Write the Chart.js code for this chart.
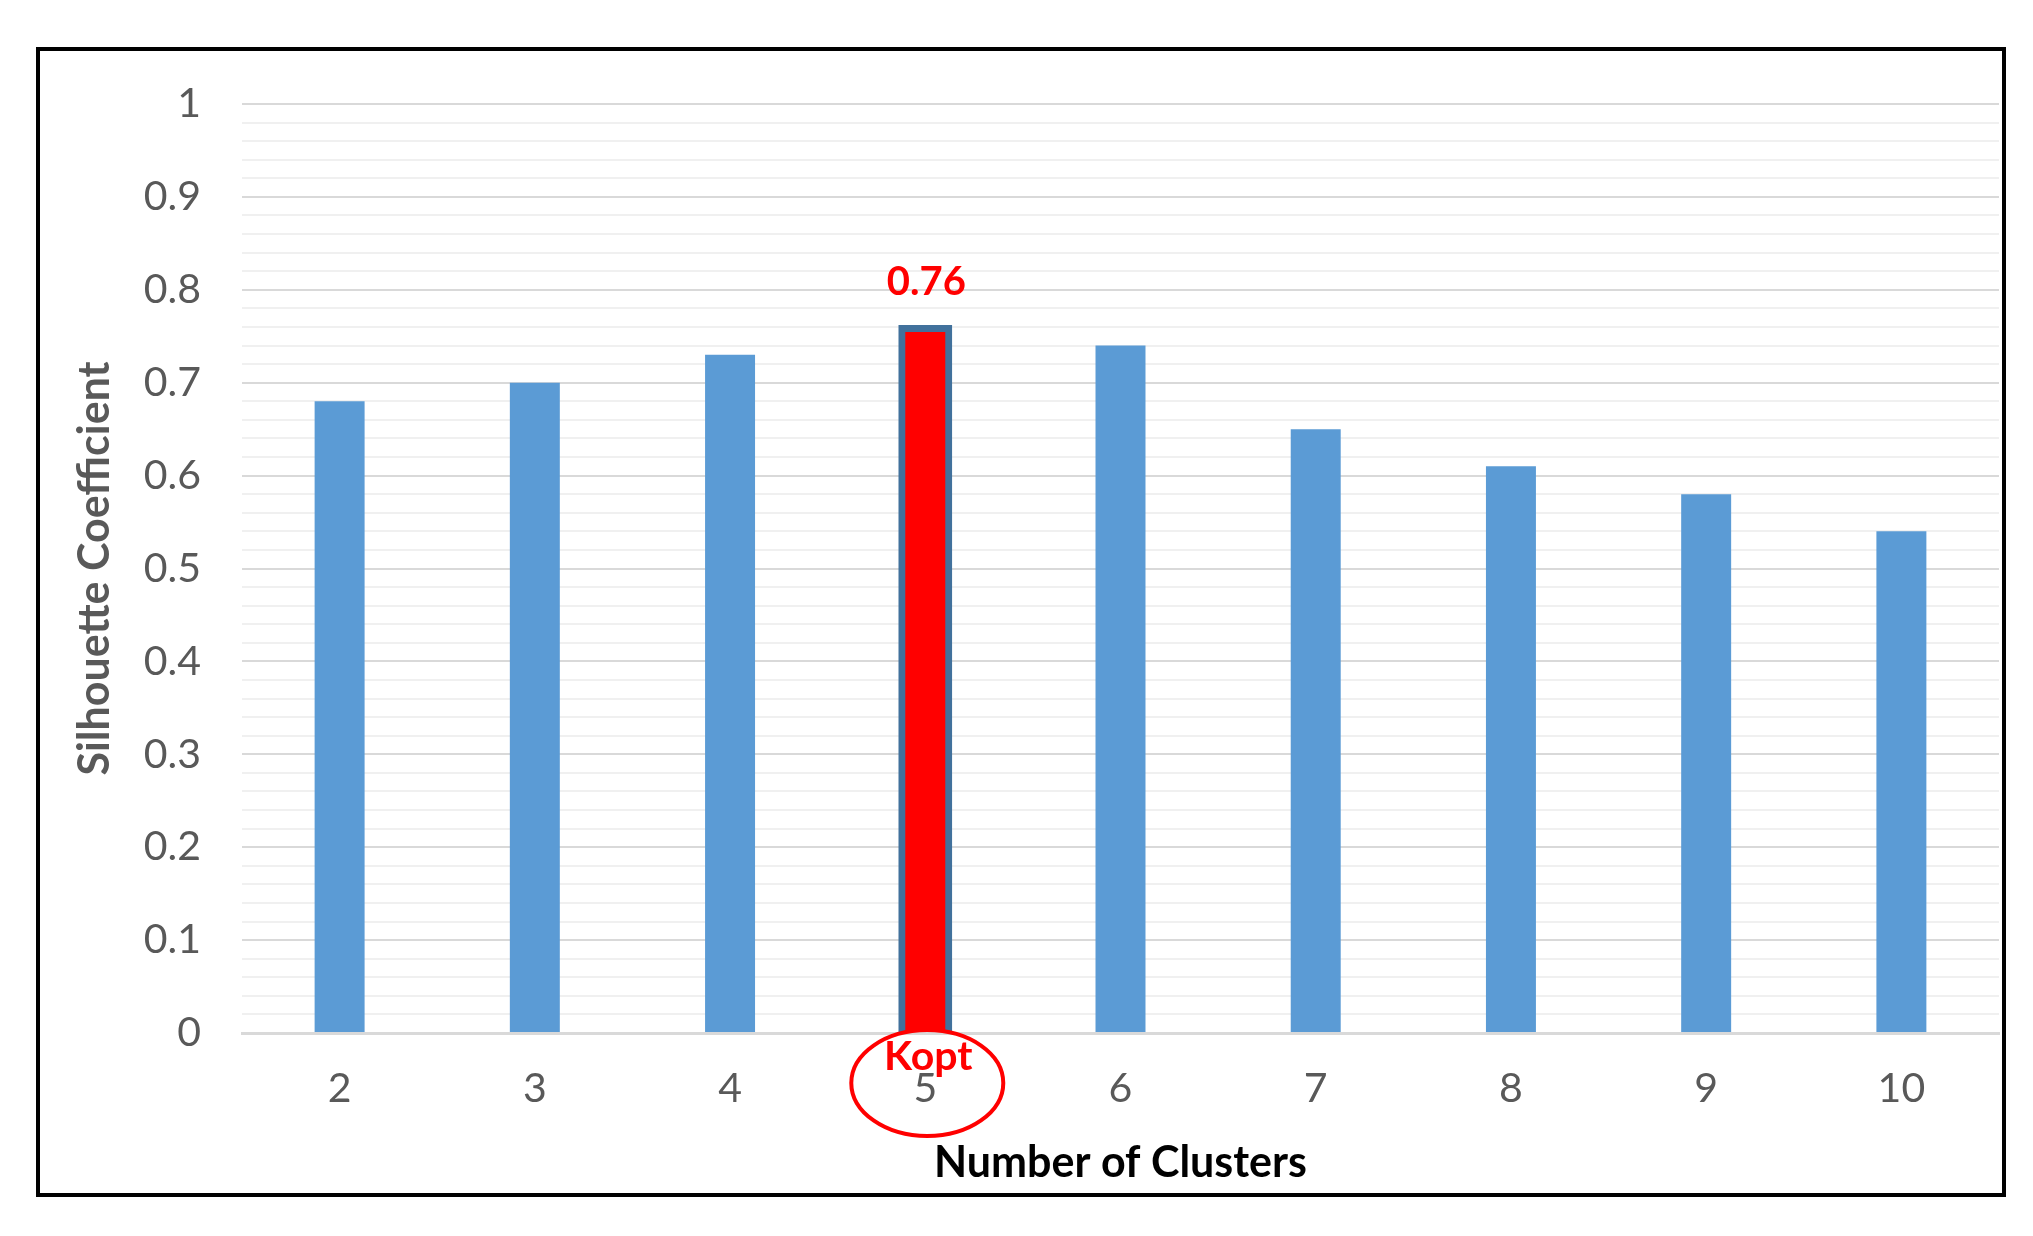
<!DOCTYPE html>
<html lang="en">
<head>
    <meta charset="UTF-8">
    <title>Silhouette Coefficient</title>
    <script src="https://cdn.jsdelivr.net/npm/chart.js@4.4.0/dist/chart.umd.min.js"></script>
    <style>
        body { margin: 0; background: #fff; }
        #frame {
            position: absolute; left: 36px; top: 47px; width: 1970px; height: 1150px;
            border: 4px solid #000; box-sizing: border-box; pointer-events: none;
        }
        #chart { position: absolute; left: 0; top: 0; }
    </style>
</head>
<body>
<canvas id="chart" width="2033" height="1236"></canvas>
<div id="frame"></div>

<script>
    const clusters = ['2', '3', '4', '5', '6', '7', '8', '9', '10'];
    const silhouette = [0.68, 0.70, 0.73, 0.76, 0.74, 0.65, 0.61, 0.58, 0.54];
    const yMin = 0;
    const yMax = 1;
    const yStep = 0.02;   // minor gridlines, labels every 0.1

    // the best k gets highlighted
    const kOpt = silhouette.indexOf(Math.max(...silhouette));

    const blue = '#5B9BD5';
    const red = '#FF0000';

    function isMajor(v) {
        return Math.round(v * 100) % 10 === 0;
    }

    const annotations = {
        id: 'annotations',
        afterDatasetsDraw(chart) {
            const bar = chart.getDatasetMeta(0).data[kOpt];
            const xs = chart.scales.x;
            const ctx = chart.ctx;
            ctx.save();
            ctx.fillStyle = red;
            ctx.textAlign = 'center';
            ctx.textBaseline = 'alphabetic';
            ctx.font = 'bold 40px Lato';
            ctx.fillText(silhouette[kOpt].toFixed(2), bar.x + 1, bar.y - 32);

            // ellipse round the optimal k
            ctx.strokeStyle = red;
            ctx.lineWidth = 4;
            ctx.beginPath();
            ctx.ellipse(bar.x + 2, xs.top + 50, 76, 53, 0, 0, Math.PI * 2);
            ctx.stroke();
            ctx.font = 'bold 41px Lato';
            ctx.fillText('Kopt', bar.x + 3, xs.top + 37);
            ctx.restore();
        }
    };

    new Chart(document.getElementById('chart'), {
        type: 'bar',
        data: {
            labels: clusters,
            datasets: [{
                label: 'Silhouette Coefficient',
                data: silhouette,
                backgroundColor: ctx => ctx.dataIndex === kOpt ? red : blue,
                borderColor: '#41719C',
                borderWidth: ctx => ctx.dataIndex === kOpt ? 7 : 0,
                inflateAmount: ctx => ctx.dataIndex === kOpt ? 2 : 'auto',
                barPercentage: 0.256,
                categoryPercentage: 1
            }]
        },
        options: {
            responsive: false,
            animation: false,
            layout: { padding: { top: 104, right: 34, left: 0, bottom: 0 } },
            plugins: {
                legend: { display: false },
                tooltip: { enabled: false }
            },
            scales: {
                x: {
                    grid: { display: false, drawTicks: false },
                    border: { color: '#D9D9D9', width: 3 },
                    ticks: {
                        color: '#595959',
                        font: { family: 'Lato', size: 41 },
                        padding: 31
                    },
                    title: {
                        display: true,
                        text: 'Number of Clusters',
                        color: '#000',
                        font: { family: 'Lato', size: 43, weight: 'bold' },
                        padding: { top: 0, bottom: 47 }
                    },
                    afterFit: s => { s.height = 203; }
                },
                y: {
                    min: yMin,
                    max: yMax,
                    border: { display: false },
                    grid: {
                        drawTicks: false,
                        lineWidth: 2,
                        color: ctx => isMajor(ctx.tick.value) ? '#D9D9D9' : '#F0F0F0'
                    },
                    ticks: {
                        stepSize: yStep,
                        autoSkip: false,
                        color: '#595959',
                        font: { family: 'Lato', size: 41 },
                        padding: 41,
                        callback: v => isMajor(v) ? String(Math.round(v * 10) / 10) : ''
                    },
                    title: {
                        display: true,
                        text: 'Silhouette Coefficient',
                        color: '#595959',
                        font: { family: 'Lato', size: 43, weight: 'bold' },
                        padding: { top: 69, bottom: 0 }
                    },
                    afterFit: s => { s.width = 242; }
                }
            }
        },
        plugins: [annotations]
    });
</script>
</body>
</html>
